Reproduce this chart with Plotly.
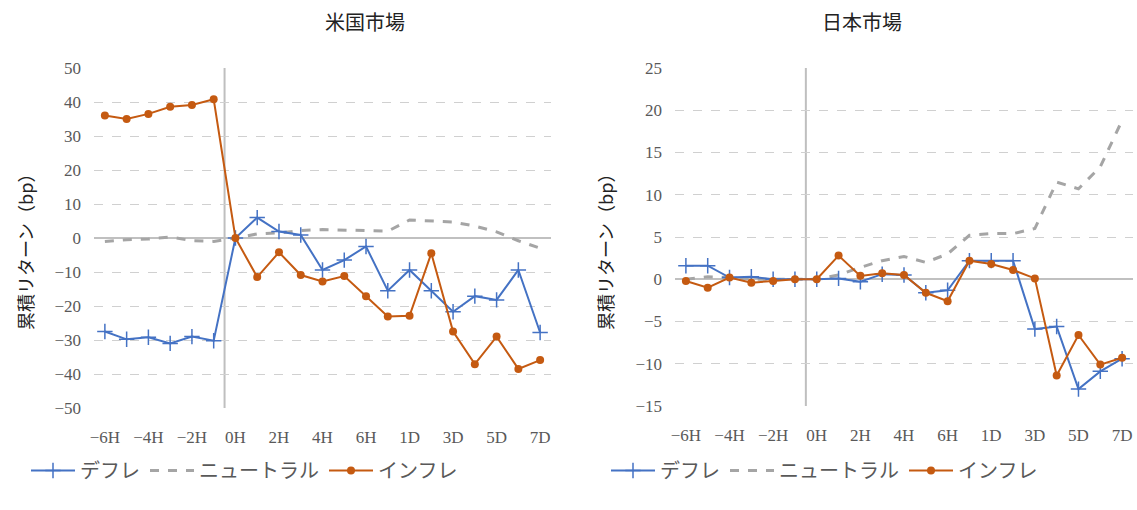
import plotly.graph_objects as go

# Time buckets around the announcement (hours, then days)
categories = ["-6H", "-5H", "-4H", "-3H", "-2H", "-1H", "0H", "1H", "2H", "3H", "4H",
              "5H", "6H", "12H", "1D", "2D", "3D", "4D", "5D", "6D", "7D"]
shown_ticks = ["-6H", "-4H", "-2H", "0H", "2H", "4H", "6H", "1D", "3D", "5D", "7D"]

# US market cumulative returns (bp)
us_deflation = [-27.5, -29.8, -29.2, -31.0, -29.0, -30.2, 0.0, 6.0, 1.9, 0.9, -9.4,
                -6.5, -2.5, -15.5, -9.4, -15.5, -21.7, -17.1, -18.2, -9.4, -27.8]
us_neutral = [-1.0, -0.5, -0.3, 0.3, -0.8, -1.0, 0.0, 1.2, 1.5, 2.2, 2.5,
              2.3, 2.0, 2.0, 5.3, 5.0, 4.7, 3.5, 1.8, -0.8, -3.0]
us_inflation = [36.0, 35.0, 36.5, 38.6, 39.1, 40.8, 0.0, -11.5, -4.2, -10.9, -12.8,
                -11.2, -17.1, -23.1, -22.9, -4.5, -27.5, -37.1, -29.0, -38.5, -35.9]

# Japan market cumulative returns (bp)
jp_deflation = [1.6, 1.6, 0.2, 0.3, 0.0, 0.0, 0.0, 0.1, -0.3, 0.6, 0.5,
                -1.6, -1.3, 2.2, 2.2, 2.2, -5.9, -5.6, -13.0, -10.9, -9.4]
jp_neutral = [0.0, 0.3, 0.2, 0.0, 0.0, 0.0, 0.0, 0.5, 1.4, 2.2, 2.7,
              2.0, 3.0, 5.2, 5.4, 5.4, 6.0, 11.5, 10.7, 13.3, 18.8]
jp_inflation = [-0.2, -1.0, 0.2, -0.4, -0.2, 0.0, 0.0, 2.8, 0.4, 0.7, 0.5,
                -1.6, -2.6, 2.2, 1.8, 1.1, 0.1, -11.4, -6.6, -10.1, -9.3]

series_names = ["デフレ", "ニュートラル", "インフレ"]
titles = ["米国市場", "日本市場"]
y_title = "累積リターン（bp）"

BLUE = "#4472C4"
GRAY = "#A5A5A5"
ORANGE = "#C55A11"
TEXT = "#595959"
JP_FONT = "Noto Sans CJK JP"
NUM_FONT = "Liberation Serif"

x_idx = list(range(len(categories)))
tick_idx = [categories.index(c) for c in shown_ticks]
tick_txt = [c.replace("-", "−") for c in shown_ticks]

fig = go.Figure()


def add_panel(dfl, neu, inf, xa, ya, legend_id):
    fig.add_trace(go.Scatter(
        x=x_idx, y=neu, name=series_names[1], mode="lines",
        line=dict(color=GRAY, width=3, dash="dash"),
        xaxis=xa, yaxis=ya, legend=legend_id, legendrank=2))
    fig.add_trace(go.Scatter(
        x=x_idx, y=dfl, name=series_names[0], mode="lines+markers",
        line=dict(color=BLUE, width=2),
        marker=dict(symbol="cross-thin", size=11, line=dict(color=BLUE, width=1.5)),
        xaxis=xa, yaxis=ya, legend=legend_id, legendrank=1))
    fig.add_trace(go.Scatter(
        x=x_idx, y=inf, name=series_names[2], mode="lines+markers",
        line=dict(color=ORANGE, width=2),
        marker=dict(symbol="circle", size=8, color=ORANGE),
        xaxis=xa, yaxis=ya, legend=legend_id, legendrank=3))


add_panel(us_deflation, us_neutral, us_inflation, "x", "y", "legend")
add_panel(jp_deflation, jp_neutral, jp_inflation, "x2", "y2", "legend2")

W, H = 1137, 510
dom_us = [94 / W, 551 / W]
dom_jp = [675 / W, 1133 / W]
dom_y = [1 - 408 / H, 1 - 68 / H]
dom_y2 = [1 - 406 / H, 1 - 68 / H]

xaxis_common = dict(
    range=[-0.5, len(categories) - 0.5], tickmode="array", tickvals=tick_idx,
    ticktext=tick_txt, showgrid=False, zeroline=False, showline=False, ticks="",
    tickfont=dict(family=NUM_FONT, size=17, color=TEXT), ticklabelstandoff=17,
    automargin=False,
)
yaxis_common = dict(
    showgrid=True, gridcolor="#D0D0D0", griddash="dash", gridwidth=1,
    zeroline=True, zerolinecolor="#C0C0C0", zerolinewidth=2, showline=False, ticks="",
    tickfont=dict(family=NUM_FONT, size=17, color=TEXT), ticklabelstandoff=12,
    automargin=False,
)

legend_common = dict(orientation="h", xanchor="left", yanchor="top",
                     font=dict(family=JP_FONT, size=20, color=TEXT), itemwidth=44,
                     traceorder="normal", bgcolor="rgba(0,0,0,0)")

fig.update_layout(
    width=W, height=H, paper_bgcolor="white", plot_bgcolor="white",
    margin=dict(l=0, r=0, t=0, b=0, autoexpand=False),
    xaxis=dict(domain=dom_us, anchor="y", **xaxis_common),
    yaxis=dict(domain=dom_y, anchor="x", range=[-50, 50], dtick=10, **yaxis_common),
    xaxis2=dict(domain=dom_jp, anchor="y2", **xaxis_common),
    yaxis2=dict(domain=dom_y2, anchor="x2", range=[-15, 25], dtick=5, **yaxis_common),
    legend=dict(x=26 / W, y=1 - 451 / H, **legend_common),
    legend2=dict(x=606 / W, y=1 - 451 / H, **legend_common),
    showlegend=True,
)

# Vertical divider at the event boundary (between -1H and 0H)
for xa, ya, lo, hi in [("x", "y", -50, 50), ("x2", "y2", -15, 25)]:
    fig.add_shape(type="line", xref=xa, yref=ya, x0=5.5, x1=5.5, y0=lo, y1=hi,
                  line=dict(color="#BFBFBF", width=2), layer="below")

# Panel titles and y-axis titles
for cx, txt in [((dom_us[0] + dom_us[1]) / 2, titles[0]), ((dom_jp[0] + dom_jp[1]) / 2, titles[1])]:
    fig.add_annotation(text=txt, x=cx, y=1 - 22 / H, xref="paper", yref="paper",
                       yanchor="middle", showarrow=False,
                       font=dict(family=JP_FONT, size=20, color="#222222"))
for px in [25, 605]:
    fig.add_annotation(text=y_title, x=px / W, y=1 - 248 / H, xref="paper", yref="paper",
                       xanchor="center", yanchor="middle", showarrow=False, textangle=-90,
                       font=dict(family=JP_FONT, size=18, color="#222222"))

fig.write_html("out.html")
